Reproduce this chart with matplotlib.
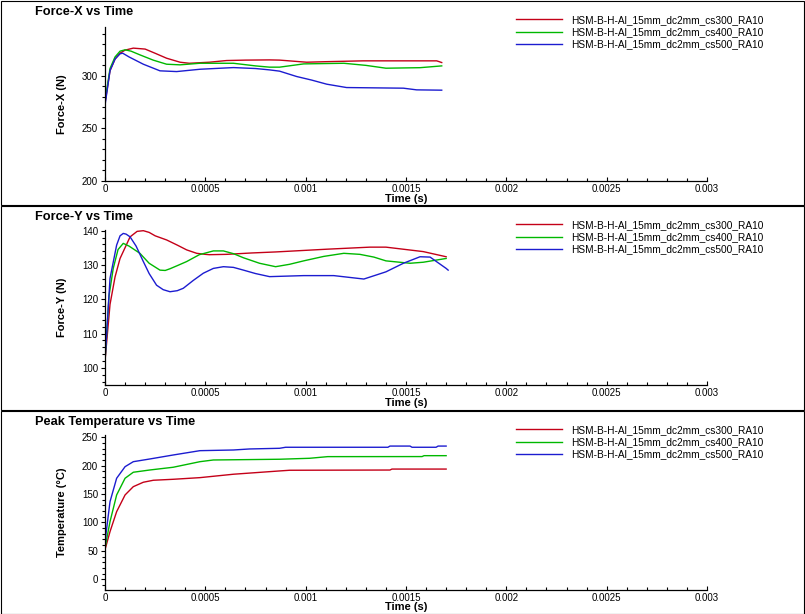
import numpy as np
import matplotlib
matplotlib.use('Agg')
import matplotlib.pyplot as plt
from matplotlib.patches import Rectangle
from matplotlib.ticker import MultipleLocator, FuncFormatter

plt.rcParams['font.family'] = ['Liberation Sans', 'DejaVu Sans']

# run names
labels = ["HSM-B-H-Al_15mm_dc2mm_cs300_RA10",
          "HSM-B-H-Al_15mm_dc2mm_cs400_RA10",
          "HSM-B-H-Al_15mm_dc2mm_cs500_RA10"]
colors = ['#c40018', '#00b800', '#1c1cd0']

# Force-X data (time in 1e-4 s)
fx_t_300 = [0, 0.25, 0.5, 0.75, 1.0, 1.41, 2.0, 2.5, 3.07, 3.74, 4.2, 5.2, 6.06, 7.0, 8.2, 8.7, 10.05, 11.0, 12.86, 14.5, 16.53, 16.78]
fx_v_300 = [274, 305, 316, 321.6, 324.5, 326.4, 325.5, 321.5, 316.8, 313, 312, 313, 314.6, 315, 315.2, 315, 313, 313.5, 314.3, 314.3, 314.3, 312.7]
fx_t_400 = [0, 0.25, 0.5, 0.75, 1.0, 1.3, 1.74, 2.4, 3.07, 3.74, 4.73, 6.4, 7.5, 8.2, 8.7, 9.9, 11.9, 13.0, 14.0, 15.7, 16.78]
fx_v_400 = [276, 307, 318, 323.5, 324.8, 323.5, 320, 315, 311.1, 310.5, 312, 312, 309.5, 308.3, 308.3, 311.4, 312, 310, 307.3, 307.8, 309.5]
fx_t_500 = [0, 0.25, 0.5, 0.75, 0.88, 1.2, 1.91, 2.74, 3.57, 4.73, 6.4, 7.5, 8.2, 8.7, 9.55, 10.3, 11.05, 12.04, 14.87, 15.53, 16.78]
fx_v_500 = [272, 305, 316, 321, 321.6, 318, 311.1, 304.8, 304.1, 306.3, 307.9, 307, 305.7, 304.5, 299.4, 296, 292.1, 288.9, 288.3, 286.7, 286.4]

# Force-Y data
fy_t_300 = [0, 0.25, 0.5, 0.75, 1.25, 1.6, 1.91, 2.2, 2.5, 3.07, 3.6, 4.07, 4.57, 5.0, 5.2, 6.06, 7.3, 8.5, 11.05, 13.2, 14.0, 15.86, 17.0]
fy_v_300 = [102, 118.5, 126.5, 131.9, 138.2, 139.8, 140.0, 139.5, 138.5, 137.3, 135.8, 134.4, 133.4, 133.1, 133.0, 133.1, 133.5, 133.8, 134.6, 135.2, 135.2, 133.9, 132.4]
fy_t_400 = [0, 0.2, 0.41, 0.65, 0.91, 1.2, 1.74, 2.2, 2.74, 3.0, 3.24, 3.6, 4.07, 4.7, 5.4, 5.9, 6.4, 6.9, 7.7, 8.5, 9.2, 9.9, 10.9, 11.9, 12.7, 13.4, 14.0, 15.2, 15.86, 17.0]
fy_v_400 = [102, 121, 129, 134.5, 136.3, 135.5, 133.4, 130.5, 128.5, 128.4, 128.9, 129.8, 131, 133.0, 134.1, 134.1, 133.3, 132.1, 130.5, 129.5, 130.2, 131.2, 132.5, 133.4, 133.1, 132.3, 131.2, 130.5, 130.8, 131.9]
fy_t_500 = [0, 0.25, 0.58, 0.75, 0.91, 1.05, 1.25, 1.55, 1.91, 2.2, 2.57, 2.9, 3.24, 3.6, 3.9, 4.4, 4.9, 5.4, 5.9, 6.4, 6.9, 7.5, 8.2, 9.9, 11.4, 12.9, 14.0, 14.87, 15.7, 16.2, 17.0, 17.1]
fy_v_500 = [102, 126.1, 135.8, 138.5, 139.2, 139.0, 138.2, 135.5, 131, 127.5, 124.1, 122.8, 122.2, 122.5, 123.2, 125.5, 127.6, 129.0, 129.5, 129.3, 128.5, 127.5, 126.6, 126.9, 126.9, 125.9, 128.0, 130.5, 132.4, 132.3, 129, 128.5]

# Peak temperature data
pt_t_300 = [0, 0.25, 0.58, 1.0, 1.41, 1.91, 2.41, 3.4, 4.73, 6.4, 8.7, 9.2, 14.2, 14.3, 17.0]
pt_v_300 = [52, 83.8, 119, 148.4, 163, 170.8, 174.3, 176, 178.9, 184.9, 190.7, 191.9, 192.3, 194.0, 194.0]
pt_t_400 = [0, 0.25, 0.58, 1.0, 1.41, 2.24, 3.4, 4.73, 5.4, 8.7, 10.2, 11.1, 15.8, 15.9, 17.0]
pt_v_400 = [55, 101.4, 148.4, 177.8, 188.4, 192.4, 197.2, 207, 210, 211.3, 213, 215.9, 216, 217.6, 217.6]
pt_t_500 = [0, 0.05, 0.25, 0.58, 1.0, 1.41, 2.24, 3.4, 4.73, 6.4, 7.2, 8.7, 9.0, 14.1, 14.2, 15.2, 15.3, 16.5, 16.6, 17.0]
pt_v_500 = [55, 80, 136.6, 177.8, 198.2, 207, 211.8, 218.8, 226.4, 227.6, 229.4, 230.6, 232.4, 232.4, 234.5, 234.5, 232.4, 232.4, 234.5, 234.5]

panels = [
    ("Force-X vs Time", "Force-X (N)", (200, 346.5), 50, 10,
     [(fx_t_300, fx_v_300), (fx_t_400, fx_v_400), (fx_t_500, fx_v_500)]),
    ("Force-Y vs Time", "Force-Y (N)", (95, 140.2), 10, 2,
     [(fy_t_300, fy_v_300), (fy_t_400, fy_v_400), (fy_t_500, fy_v_500)]),
    ("Peak Temperature vs Time", "Temperature (\u00b0C)", (-19, 254), 50, 10,
     [(pt_t_300, pt_v_300), (pt_t_400, pt_v_400), (pt_t_500, pt_v_500)]),
]

W, H = 805, 614
fig = plt.figure(figsize=(W / 100, H / 100), dpi=100, facecolor='white')

panel_top = [0, 205, 410]
panel_bot = [204, 409, 613]
ax_top = [27, 230, 435]
ax_bot = [181, 385, 590]
x0, x1 = 105, 707

for i, (title, ylab, ylim, major, minor, series) in enumerate(panels):
    # panel border
    fig.add_artist(Rectangle((0.5 / W, 1 - (panel_bot[i] + 0.5) / H),
                             (W - 1.5) / W, (panel_bot[i] - panel_top[i]) / H,
                             transform=fig.transFigure, fill=False,
                             ec='black', lw=0.8))
    ax = fig.add_axes([x0 / W, 1 - ax_bot[i] / H, (x1 - x0) / W,
                       (ax_bot[i] - ax_top[i]) / H])
    for (t, v), c, lab in zip(series, colors, labels):
        ax.plot(np.array(t) * 1e-4, v, color=c, lw=1.0, label=lab)

    ax.set_xlim(0, 0.003)
    ax.set_ylim(*ylim)
    for s in ['top', 'right']:
        ax.spines[s].set_visible(False)
    for s in ['left', 'bottom']:
        ax.spines[s].set_linewidth(0.9)

    ax.xaxis.set_major_locator(MultipleLocator(0.0005))
    ax.xaxis.set_minor_locator(MultipleLocator(0.0001))
    ax.xaxis.set_major_formatter(FuncFormatter(lambda v, p: '%g' % round(v, 6)))
    ax.yaxis.set_major_locator(MultipleLocator(major))
    ax.yaxis.set_minor_locator(MultipleLocator(minor))
    ax.tick_params(axis='x', which='major', direction='in', length=3, width=0.8,
                   labelsize=7, pad=2)
    ax.tick_params(axis='x', which='minor', direction='in', length=2, width=0.8)
    ax.tick_params(axis='y', which='major', direction='out', length=3, width=0.8,
                   labelsize=7, pad=2)
    ax.tick_params(axis='y', which='minor', direction='out', length=2, width=0.8)

    h = ax_bot[i] - ax_top[i]
    ax.set_xlabel("Time (s)", fontsize=8, fontweight='bold')
    ax.xaxis.set_label_coords(0.5, -12.5 / h)
    ax.set_ylabel(ylab, fontsize=8, fontweight='bold')
    ax.yaxis.set_label_coords(-38 / (x1 - x0), 0.5)

    fig.text(35 / W, 1 - (panel_top[i] + 12) / H, title, fontsize=9.2,
             fontweight='bold', va='center', ha='left')

    ax.legend(loc='upper left', bbox_to_anchor=(516 / W, 1 - (panel_top[i] + 15) / H),
              bbox_transform=fig.transFigure, frameon=False, borderaxespad=0,
              borderpad=0, fontsize=7.3, handlelength=4.5, handletextpad=0.9,
              labelspacing=0.22)

plt.savefig("out.png", dpi=100, facecolor="white")
